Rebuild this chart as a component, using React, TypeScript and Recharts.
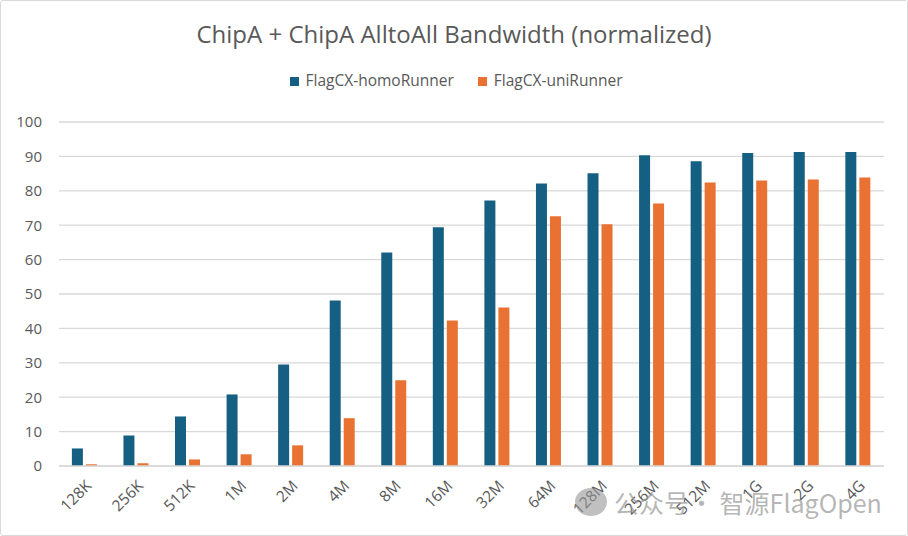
import { Bar, BarChart, CartesianGrid, Legend, XAxis, YAxis } from "recharts";

const sizes = [
  "128K", "256K", "512K", "1M", "2M", "4M", "8M", "16M",
  "32M", "64M", "128M", "256M", "512M", "1G", "2G", "4G",
];
const homoRunner = [
  5.1, 8.9, 14.4, 20.8, 29.5, 48.1, 62.1, 69.4,
  77.2, 82.1, 85.1, 90.3, 88.6, 91.0, 91.3, 91.3,
];
const uniRunner = [
  0.5, 0.8, 1.9, 3.4, 6.0, 13.9, 24.9, 42.3,
  46.1, 72.6, 70.3, 76.3, 82.4, 83.0, 83.3, 83.9,
];
const yTicks = [0, 10, 20, 30, 40, 50, 60, 70, 80, 90, 100];

const data = sizes.map((size, i) => ({
  size,
  homo: homoRunner[i],
  uni: uniRunner[i],
}));

const FONT = "'Open Sans', sans-serif";
const TEXT = "#595959";

export default function App() {
  return (
    <div
      style={{
        position: "absolute",
        left: 0,
        top: 0,
        width: 906,
        height: 534,
        border: "1px solid #d9d9d9",
        borderRadius: 3,
        background: "#fff",
        fontFamily: FONT,
        overflow: "hidden",
      }}
    >
      <div
        style={{
          position: "absolute",
          top: 17,
          left: 0,
          width: 906,
          textAlign: "center",
          fontSize: 24,
          color: TEXT,
          lineHeight: "32px",
        }}
      >
        ChipA + ChipA AlltoAll Bandwidth (normalized)
      </div>
      <div style={{ position: "absolute", left: -1, top: -1 }}>
        <BarChart
          width={908}
          height={536}
          data={data}
          margin={{ top: 122, right: 24, left: 0, bottom: 0 }}
          barCategoryGap="25%"
          barGap={3}
        >
          <CartesianGrid
            vertical={false}
            stroke="#d9d9d9"
            strokeWidth={1.3}
          />
          <XAxis
            dataKey="size"
            height={70}
            interval={0}
            tickLine={false}
            axisLine={{ stroke: "#d9d9d9", strokeWidth: 1.5 }}
            tickSize={0}
            tickMargin={13}
            angle={-45}
            textAnchor="end"
            tick={{ fill: TEXT, fontSize: 15.5, fontFamily: FONT }}
          />
          <YAxis
            width={59}
            domain={[0, 100]}
            ticks={yTicks}
            interval={0}
            tickLine={false}
            axisLine={false}
            tickSize={0}
            tickMargin={17}
            tick={{ fill: TEXT, fontSize: 15, fontFamily: FONT }}
          />
          <Legend
            verticalAlign="middle"
            align="center"
            layout="horizontal"
            iconType="square"
            iconSize={9}
            wrapperStyle={{
              top: 69,
              left: 14,
              width: 908,
              fontSize: 15.5,
              fontFamily: FONT,
            }}
            formatter={(value) => (
              <span style={{ color: TEXT, marginLeft: 3, marginRight: 14 }}>
                {value}
              </span>
            )}
          />
          <Bar
            dataKey="homo"
            name="FlagCX-homoRunner"
            fill="#156082"
            isAnimationActive={false}
          />
          <Bar
            dataKey="uni"
            name="FlagCX-uniRunner"
            fill="#E97132"
            isAnimationActive={false}
          />
        </BarChart>
      </div>
      <div
        style={{
          position: "absolute",
          left: 574,
          top: 487,
          width: 32,
          height: 28,
          borderRadius: "50%",
          background: "rgba(150,150,150,0.6)",
        }}
      />
      <div
        style={{
          position: "absolute",
          left: 613,
          top: 484,
          fontSize: 25,
          lineHeight: "34px",
          color: "rgba(150,150,150,0.7)",
          fontFamily: "'Noto Sans CJK SC', sans-serif",
          whiteSpace: "nowrap",
        }}
      >
        公众号· 智源FlagOpen
      </div>
    </div>
  );
}
